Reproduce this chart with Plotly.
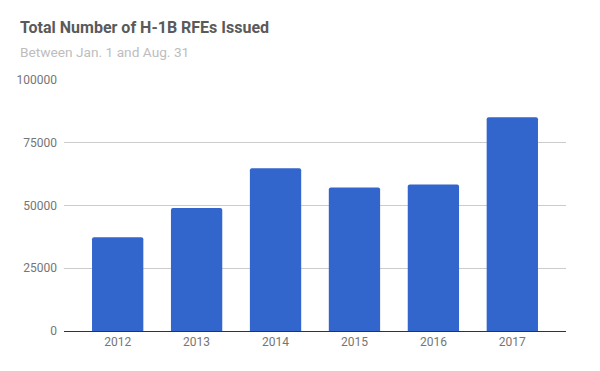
import plotly.graph_objects as go

years = ["2012", "2013", "2014", "2015", "2016", "2017"]
rfes = [37400, 49000, 64800, 57200, 58400, 85200]
y_ticks = [0, 25000, 50000, 75000, 100000]

fig = go.Figure(go.Bar(
    x=years, y=rfes, marker_color="#3366cc", width=0.65,
    marker_line_width=0, marker_cornerradius=2,
))

fig.update_layout(
    width=600, height=371,
    margin=dict(l=64, r=34, t=80, b=40),
    plot_bgcolor="white", paper_bgcolor="white",
    font=dict(family="Roboto, Arial, sans-serif", color="#666666", size=12),
    showlegend=False,
    bargap=0.35,
)
fig.update_xaxes(
    type="category", range=[-0.68, 5.68], showgrid=False,
    showline=True, linecolor="#333333", linewidth=1,
    ticks="", tickfont=dict(size=12, color="#757575"),
)
fig.update_yaxes(
    range=[0, 100000], tickvals=y_ticks, ticktext=[str(v) for v in y_ticks],
    showgrid=True, gridcolor="#cccccc", gridwidth=1,
    zeroline=False, showline=False, ticks="",
    tickfont=dict(size=12, color="#757575"), ticklabelstandoff=6,
)

fig.add_annotation(
    text="<b>Total Number of H-1B RFEs Issued</b>", xref="paper", yref="paper",
    x=(18 - 64) / 502, y=(331 - 28) / 251, xanchor="left", yanchor="middle",
    showarrow=False, font=dict(size=16, color="#5a5a5a"),
)
fig.add_annotation(
    text="Between Jan. 1 and Aug. 31", xref="paper", yref="paper",
    x=(18 - 64) / 502, y=(331 - 52) / 251, xanchor="left", yanchor="middle",
    showarrow=False, font=dict(size=13.7, color="#bdbdbd"),
)

fig.write_html("out.html", config={"displayModeBar": False},
               post_script="document.body.style.margin='0';")
